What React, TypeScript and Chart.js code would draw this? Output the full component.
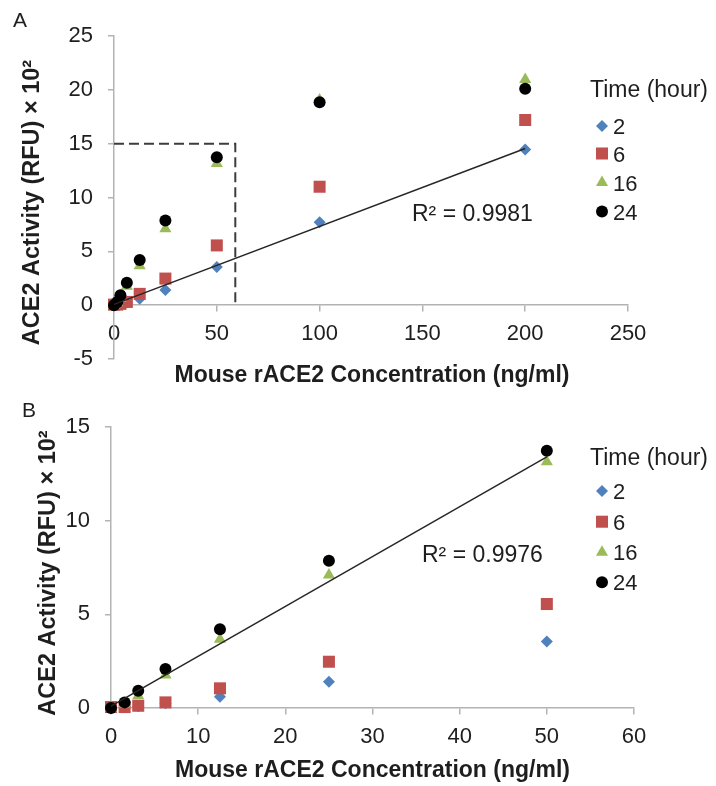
import React, { useEffect, useRef } from "react";
import { Chart, registerables } from "chart.js";

Chart.register(...registerables);

// ---------------- data ----------------
const concentrations = [0, 1.5625, 3.125, 6.25, 12.5, 25, 50, 100, 200];
const time2h = [0, 0.05, 0.1, 0.25, 0.6, 1.4, 3.55, 7.7, 14.45];
const time6h = [0.05, 0.05, 0.12, 0.3, 1.05, 2.47, 5.55, 11.0, 17.2];
const time16h = [0, 0.22, 0.65, 1.76, 3.67, 7.1, 13.15, 19.05, 20.95];
const time24h = [0, 0.3, 0.92, 2.08, 4.2, 7.86, 13.73, 18.85, 20.1];

const seriesNames = ["2", "6", "16", "24"];
const seriesValues = [time2h, time6h, time16h, time24h];

// trendline endpoints
const trendAX = [0, 200];
const trendAY = [0.07, 14.55];
const trendBX = [0, 50];
const trendBY = [0.1, 13.4];

// dashed zoom box in panel A
const zoomBoxX = [0, 59, 59];
const zoomBoxY = [15, 15, 0];

const r2Labels = ["R² = 0.9981", "R² = 0.9976"];

// ---------------- styles ----------------
const FONT = '"Liberation Sans", Arial, Helvetica, sans-serif';
const TEXT = "#1e1e1e";
const AXIS = "#b3b3b3";
const seriesColors = ["#4F81BD", "#C0504D", "#9BBB59", "#000000"];
const seriesShapes = ["rectRot", "rect", "triangle", "circle"];
const seriesRadius = [6, 8.5, 7, 6];

type Spec = {
  top: number;
  height: number;
  pad: { top: number; right: number; bottom: number };
  yAxisWidth: number;
  xMin: number;
  xMax: number;
  xStep: number;
  yMin: number;
  yMax: number;
  yStep: number;
  count: number;
  letter: { text: string; x: number; y: number };
  yTitle: { x: number; y: number };
  xTitle: { x: number; y: number };
  legend: { titleX: number; titleY: number; markerX: number; textX: number; itemYs: number[] };
  r2: { text: string; x: number; y: number };
  trendX: number[];
  trendY: number[];
  box: boolean;
};

function drawMarker(ctx: CanvasRenderingContext2D, shape: string, x: number, y: number, r: number, color: string) {
  ctx.save();
  ctx.fillStyle = color;
  ctx.beginPath();
  if (shape === "circle") {
    ctx.arc(x, y, r, 0, Math.PI * 2);
  } else if (shape === "rect") {
    const s = Math.SQRT1_2 * r;
    ctx.rect(x - s, y - s, 2 * s, 2 * s);
  } else if (shape === "rectRot") {
    ctx.moveTo(x, y - r);
    ctx.lineTo(x + r, y);
    ctx.lineTo(x, y + r);
    ctx.lineTo(x - r, y);
    ctx.closePath();
  } else if (shape === "triangle") {
    ctx.moveTo(x, y - r);
    ctx.lineTo(x + 0.866 * r, y + 0.5 * r);
    ctx.lineTo(x - 0.866 * r, y + 0.5 * r);
    ctx.closePath();
  }
  ctx.fill();
  ctx.restore();
}

function buildConfig(spec: Spec): any {
  const n = spec.count;
  const datasets: any[] = seriesValues.map((vals, i) => ({
    type: "scatter",
    label: seriesNames[i],
    data: concentrations.slice(0, n).map((x, j) => ({ x, y: vals[j] })),
    pointStyle: seriesShapes[i],
    pointRadius: seriesRadius[i],
    pointHoverRadius: seriesRadius[i],
    backgroundColor: seriesColors[i],
    borderColor: seriesColors[i],
    borderWidth: 0,
    showLine: false,
    clip: false,
    order: 4 - i,
  }));
  datasets.push({
    type: "line",
    label: "trend",
    data: spec.trendX.map((x, j) => ({ x, y: spec.trendY[j] })),
    borderColor: "#262626",
    borderWidth: 1.5,
    pointRadius: 0,
    fill: false,
    clip: false,
    order: 0,
  });
  if (spec.box) {
    datasets.push({
      type: "line",
      label: "box",
      data: zoomBoxX.map((x, j) => ({ x, y: zoomBoxY[j] })),
      borderColor: "#3c3c3c",
      borderWidth: 2,
      borderDash: [10, 5],
      pointRadius: 0,
      fill: false,
      clip: false,
      order: 10,
    });
  }

  const textPlugin = {
    id: "panelText",
    afterDraw(chart: any) {
      const ctx: CanvasRenderingContext2D = chart.ctx;
      ctx.save();
      ctx.fillStyle = TEXT;
      ctx.textBaseline = "alphabetic";
      // panel letter
      ctx.font = `21px ${FONT}`;
      ctx.textAlign = "left";
      ctx.fillText(spec.letter.text, spec.letter.x, spec.letter.y);
      // x title
      ctx.font = `bold 23px ${FONT}`;
      ctx.textAlign = "center";
      ctx.fillText("Mouse rACE2 Concentration (ng/ml)", spec.xTitle.x, spec.xTitle.y);
      // y title
      ctx.save();
      ctx.translate(spec.yTitle.x, spec.yTitle.y);
      ctx.rotate(-Math.PI / 2);
      ctx.font = `bold 23.5px ${FONT}`;
      ctx.textAlign = "center";
      ctx.fillText("ACE2 Activity (RFU) × 10²", 0, 0);
      ctx.restore();
      // R2
      ctx.font = `23px ${FONT}`;
      ctx.textAlign = "left";
      ctx.fillText(spec.r2.text, spec.r2.x, spec.r2.y);
      // legend
      ctx.font = `23px ${FONT}`;
      ctx.fillText("Time (hour)", spec.legend.titleX, spec.legend.titleY);
      ctx.font = `22px ${FONT}`;
      seriesNames.forEach((name, i) => {
        const cy = spec.legend.itemYs[i];
        drawMarker(ctx, seriesShapes[i], spec.legend.markerX, cy, seriesRadius[i], seriesColors[i]);
        ctx.fillStyle = TEXT;
        ctx.fillText(name, spec.legend.textX, cy + 8);
      });
      ctx.restore();
    },
  };

  const tickFont = { family: FONT, size: 22 };

  return {
    type: "scatter",
    data: { datasets },
    plugins: [textPlugin],
    options: {
      animation: false,
      responsive: false,
      events: [],
      layout: { padding: { left: 0, top: spec.pad.top, right: spec.pad.right, bottom: spec.pad.bottom } },
      plugins: { legend: { display: false }, tooltip: { enabled: false } },
      scales: {
        x: {
          type: "linear",
          position: { y: 0 },
          min: spec.xMin,
          max: spec.xMax,
          ticks: { stepSize: spec.xStep, font: tickFont, color: TEXT, padding: 10, maxRotation: 0, autoSkip: false },
          grid: { drawOnChartArea: false, drawTicks: true, tickLength: 6, color: AXIS, lineWidth: 1.5 },
          border: { color: AXIS, width: 1.5 },
          title: { display: false },
        },
        y: {
          type: "linear",
          position: "left",
          min: spec.yMin,
          max: spec.yMax,
          ticks: { stepSize: spec.yStep, font: tickFont, color: TEXT, padding: 15, autoSkip: false },
          grid: { drawOnChartArea: false, drawTicks: true, tickLength: 6, color: AXIS, lineWidth: 1.5 },
          border: { color: AXIS, width: 1.5 },
          title: { display: false },
          afterFit: (scale: any) => {
            scale.width = spec.yAxisWidth;
          },
        },
      },
    },
  };
}

const specA: Spec = {
  top: 0,
  height: 395,
  pad: { top: 36, right: 88, bottom: 36 },
  yAxisWidth: 114,
  xMin: 0,
  xMax: 250,
  xStep: 50,
  yMin: -5,
  yMax: 25,
  yStep: 5,
  count: 9,
  letter: { text: "A", x: 13, y: 27 },
  yTitle: { x: 38.5, y: 202.5 },
  xTitle: { x: 372, y: 382 },
  legend: { titleX: 590, titleY: 97, markerX: 602, textX: 613, itemYs: [126, 153.5, 182.5, 211.5] },
  r2: { text: r2Labels[0], x: 412, y: 221 },
  trendX: trendAX,
  trendY: trendAY,
  box: true,
};

const specB: Spec = {
  top: 395,
  height: 391,
  pad: { top: 32, right: 82, bottom: 78 },
  yAxisWidth: 111,
  xMin: 0,
  xMax: 60,
  xStep: 10,
  yMin: 0,
  yMax: 15,
  yStep: 5,
  count: 7,
  letter: { text: "B", x: 22, y: 21.7 },
  yTitle: { x: 55, y: 178 },
  xTitle: { x: 372.5, y: 382 },
  legend: { titleX: 590, titleY: 70, markerX: 602, textX: 613, itemYs: [96, 126.7, 157.3, 187.3] },
  r2: { text: r2Labels[1], x: 422, y: 167.3 },
  trendX: trendBX,
  trendY: trendBY,
  box: false,
};

function Panel({ spec }: { spec: Spec }) {
  const ref = useRef<HTMLCanvasElement>(null);
  useEffect(() => {
    const chart = new Chart(ref.current as HTMLCanvasElement, buildConfig(spec));
    return () => chart.destroy();
  }, [spec]);
  return (
    <canvas
      ref={ref}
      width={716}
      height={spec.height}
      style={{ position: "absolute", left: 0, top: spec.top, width: 716, height: spec.height }}
    />
  );
}

export default function App() {
  return (
    <div style={{ position: "fixed", left: 0, top: 0, width: 716, height: 786, background: "#ffffff", overflow: "hidden" }}>
      <Panel spec={specA} />
      <Panel spec={specB} />
    </div>
  );
}
